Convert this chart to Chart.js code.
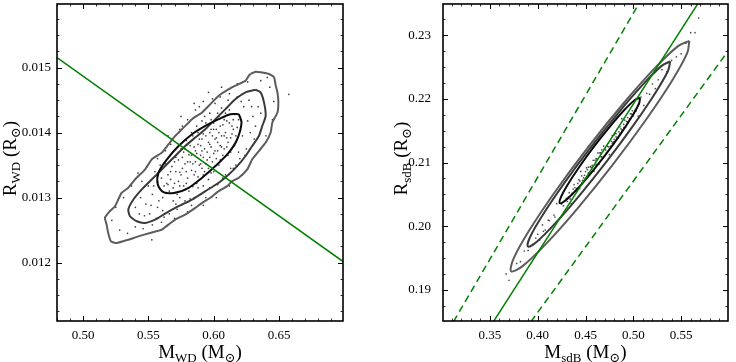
<!DOCTYPE html>
<html>
<head>
<meta charset="utf-8">
<script src="https://cdn.jsdelivr.net/npm/chart.js@4.4.1/dist/chart.umd.min.js"></script>
<style>
  body { margin: 0; background: #fff; }
  .panel { position: absolute; top: 0; width: 368px; height: 362px; }
</style>
</head>
<body>
<div class="panel" style="left:0"><canvas id="wdChart" width="368" height="362"></canvas></div>
<div class="panel" style="left:368px"><canvas id="sdbChart" width="368" height="362"></canvas></div>
<script>
// --- white dwarf panel (M, R) ---
const wdMassTicks = [0.50, 0.55, 0.60, 0.65]
const wdRadiusTicks = [0.012, 0.013, 0.014, 0.015]

const wdSamples = [
  [0.562, 0.01318], [0.565, 0.01335], [0.566, 0.01310], [0.568, 0.01348], [0.570, 0.01322], [0.571, 0.01362],
  [0.572, 0.01305], [0.574, 0.01339], [0.575, 0.01375], [0.577, 0.01318], [0.578, 0.01352], [0.579, 0.01388],
  [0.580, 0.01330], [0.581, 0.01366], [0.583, 0.01342], [0.583, 0.01400], [0.584, 0.01317], [0.585, 0.01378],
  [0.586, 0.01355], [0.587, 0.01410], [0.588, 0.01332], [0.589, 0.01390], [0.590, 0.01365], [0.591, 0.01345],
  [0.591, 0.01418], [0.592, 0.01398], [0.593, 0.01375], [0.594, 0.01352], [0.595, 0.01408], [0.596, 0.01385],
  [0.597, 0.01362], [0.598, 0.01420], [0.599, 0.01395], [0.600, 0.01340], [0.601, 0.01372], [0.602, 0.01405],
  [0.603, 0.01385], [0.604, 0.01425], [0.605, 0.01358], [0.606, 0.01395], [0.607, 0.01412], [0.608, 0.01375],
  [0.609, 0.01430], [0.610, 0.01392], [0.611, 0.01365], [0.612, 0.01415], [0.614, 0.01398], [0.615, 0.01420],
  [0.616, 0.01380], [0.618, 0.01408], [0.569, 0.01295], [0.576, 0.01290], [0.588, 0.01315], [0.596, 0.01328],
  [0.560, 0.01330], [0.563, 0.01352], [0.582, 0.01298], [0.593, 0.01425], [0.606, 0.01438], [0.587, 0.01368],
  [0.561, 0.01300], [0.564, 0.01322], [0.567, 0.01340], [0.569, 0.01315], [0.571, 0.01340], [0.573, 0.01358],
  [0.574, 0.01300], [0.576, 0.01345], [0.577, 0.01370], [0.578, 0.01312], [0.579, 0.01340], [0.580, 0.01382],
  [0.581, 0.01310], [0.582, 0.01355], [0.584, 0.01395], [0.585, 0.01335], [0.586, 0.01372], [0.587, 0.01322],
  [0.588, 0.01400], [0.589, 0.01350], [0.590, 0.01380], [0.592, 0.01335], [0.592, 0.01362], [0.594, 0.01415],
  [0.595, 0.01370], [0.596, 0.01345], [0.597, 0.01400], [0.598, 0.01378], [0.599, 0.01355], [0.600, 0.01415],
  [0.601, 0.01390], [0.602, 0.01360], [0.603, 0.01430], [0.604, 0.01400], [0.605, 0.01380], [0.607, 0.01365],
  [0.608, 0.01420], [0.609, 0.01400], [0.611, 0.01385], [0.612, 0.01435], [0.613, 0.01370], [0.614, 0.01410],
  [0.616, 0.01428], [0.617, 0.01395], [0.619, 0.01420], [0.570, 0.01355], [0.575, 0.01335], [0.583, 0.01365],
  [0.591, 0.01390], [0.600, 0.01405],
  [0.565, 0.01320], [0.567, 0.01328], [0.573, 0.01325], [0.576, 0.01362], [0.579, 0.01322], [0.582, 0.01380],
  [0.584, 0.01352], [0.586, 0.01340], [0.588, 0.01382], [0.590, 0.01352], [0.591, 0.01372], [0.593, 0.01340],
  [0.594, 0.01395], [0.595, 0.01358], [0.597, 0.01382], [0.598, 0.01405], [0.600, 0.01368], [0.602, 0.01392],
  [0.603, 0.01372], [0.605, 0.01410], [0.606, 0.01378], [0.608, 0.01395], [0.610, 0.01418], [0.613, 0.01392],
  [0.615, 0.01405], [0.589, 0.01405], [0.592, 0.01318], [0.598, 0.01338], [0.604, 0.01350], [0.580, 0.01355],
  [0.578, 0.01375], [0.574, 0.01318], [0.571, 0.01308], [0.597, 0.01430], [0.610, 0.01378],
  [0.540, 0.01285], [0.544, 0.01300], [0.547, 0.01272], [0.550, 0.01318], [0.552, 0.01288], [0.555, 0.01340],
  [0.556, 0.01268], [0.558, 0.01295], [0.561, 0.01280], [0.563, 0.01372], [0.566, 0.01275], [0.568, 0.01390],
  [0.572, 0.01282], [0.574, 0.01405], [0.578, 0.01295], [0.580, 0.01420], [0.585, 0.01300], [0.586, 0.01435],
  [0.590, 0.01305], [0.592, 0.01448], [0.597, 0.01315], [0.599, 0.01452], [0.603, 0.01320], [0.605, 0.01455],
  [0.609, 0.01335], [0.612, 0.01460], [0.615, 0.01345], [0.618, 0.01455], [0.620, 0.01360], [0.623, 0.01440],
  [0.625, 0.01375], [0.627, 0.01450], [0.628, 0.01400], [0.630, 0.01425], [0.632, 0.01410], [0.634, 0.01440],
  [0.622, 0.01395], [0.626, 0.01418], [0.545, 0.01325], [0.553, 0.01305],
  [0.543, 0.01275], [0.548, 0.01290], [0.551, 0.01275], [0.554, 0.01318], [0.557, 0.01285], [0.559, 0.01350],
  [0.562, 0.01270], [0.567, 0.01382], [0.571, 0.01290], [0.576, 0.01410], [0.583, 0.01288], [0.589, 0.01440],
  [0.594, 0.01300], [0.601, 0.01445], [0.607, 0.01330], [0.611, 0.01450], [0.617, 0.01350], [0.621, 0.01448],
  [0.624, 0.01365], [0.629, 0.01440], [0.631, 0.01390], [0.636, 0.01430], [0.619, 0.01370], [0.613, 0.01345],
  [0.522, 0.01265], [0.525, 0.01285], [0.528, 0.01250], [0.531, 0.01300], [0.534, 0.01245], [0.537, 0.01318],
  [0.540, 0.01255], [0.542, 0.01338], [0.546, 0.01252], [0.549, 0.01348], [0.553, 0.01258], [0.557, 0.01360],
  [0.560, 0.01262], [0.565, 0.01395], [0.570, 0.01268], [0.575, 0.01425], [0.580, 0.01278], [0.585, 0.01445],
  [0.592, 0.01288], [0.596, 0.01462], [0.602, 0.01300], [0.606, 0.01470], [0.612, 0.01318], [0.618, 0.01475],
  [0.622, 0.01335], [0.626, 0.01478], [0.632, 0.01365], [0.636, 0.01480], [0.640, 0.01395], [0.643, 0.01470],
  [0.645, 0.01420], [0.646, 0.01448], [0.641, 0.01485], [0.6575, 0.01459], [0.5526, 0.01235]
]

const wdInner = [
  [0.6192, 0.014284], [0.6213, 0.014156], [0.6180, 0.013898], [0.6115, 0.013692], [0.6013, 0.013485],
  [0.5911, 0.013306], [0.5808, 0.013151], [0.5705, 0.013074], [0.5615, 0.013083], [0.5572, 0.013202],
  [0.5577, 0.013383], [0.5642, 0.013589], [0.5731, 0.013794], [0.5834, 0.013975], [0.5936, 0.014103],
  [0.6038, 0.014207], [0.6128, 0.014284], [0.6192, 0.014284]
]

const wdMiddle = [
  [0.6321, 0.014660], [0.6359, 0.014620], [0.6385, 0.014465], [0.6398, 0.014258], [0.6372, 0.014103],
  [0.6346, 0.013949], [0.6295, 0.013794], [0.6244, 0.013640], [0.6180, 0.013485], [0.6115, 0.013357],
  [0.6038, 0.013229], [0.5936, 0.013099], [0.5834, 0.012970], [0.5731, 0.012867], [0.5628, 0.012754],
  [0.5552, 0.012661], [0.5475, 0.012610], [0.5411, 0.012635], [0.5359, 0.012712], [0.5346, 0.012816],
  [0.5385, 0.012970], [0.5449, 0.013125], [0.5500, 0.013229], [0.5565, 0.013357], [0.5628, 0.013485],
  [0.5705, 0.013640], [0.5782, 0.013794], [0.5859, 0.013924], [0.5936, 0.014052], [0.6013, 0.014207],
  [0.6090, 0.014362], [0.6167, 0.014516], [0.6244, 0.014620], [0.6321, 0.014660]
]

const wdOuter = [
  [0.6282, 0.014903], [0.6321, 0.014938], [0.6359, 0.014929], [0.6423, 0.014903], [0.6462, 0.014852],
  [0.6475, 0.014722], [0.6488, 0.014620], [0.6495, 0.014465], [0.6488, 0.014311], [0.6449, 0.014156],
  [0.6436, 0.014001], [0.6398, 0.013847], [0.6346, 0.013717], [0.6295, 0.013589], [0.6257, 0.013434],
  [0.6192, 0.013306], [0.6142, 0.013253], [0.6103, 0.013176], [0.6038, 0.013099], [0.5975, 0.012997],
  [0.5911, 0.012919], [0.5859, 0.012842], [0.5782, 0.012739], [0.5705, 0.012661], [0.5654, 0.012584],
  [0.5603, 0.012507], [0.5513, 0.012456], [0.5423, 0.012403], [0.5346, 0.012352], [0.5257, 0.012301],
  [0.5213, 0.012326], [0.5192, 0.012456], [0.5180, 0.012584], [0.5167, 0.012688], [0.5205, 0.012790],
  [0.5244, 0.012867], [0.5269, 0.012970], [0.5295, 0.013074], [0.5346, 0.013151], [0.5398, 0.013280],
  [0.5475, 0.013434], [0.5526, 0.013589], [0.5603, 0.013692], [0.5654, 0.013821], [0.5705, 0.013949],
  [0.5757, 0.014052], [0.5834, 0.014207], [0.5911, 0.014311], [0.5975, 0.014439], [0.6038, 0.014567],
  [0.6115, 0.014671], [0.6192, 0.014748], [0.6244, 0.014799], [0.6269, 0.014876], [0.6282, 0.014903]
]

const wdConstraint = [[0.48, 0.015155], [0.70, 0.012001]]

// --- sdB panel (M, R) ---
const sdbMassTicks = [0.35, 0.40, 0.45, 0.50, 0.55]
const sdbRadiusTicks = [0.19, 0.20, 0.21, 0.22, 0.23]

const sdbSamples = [
  [0.428, 0.20389], [0.431, 0.20387], [0.433, 0.20526], [0.436, 0.20515], [0.438, 0.20654], [0.440, 0.20543],
  [0.442, 0.20672], [0.444, 0.20591], [0.446, 0.20790], [0.448, 0.20759], [0.450, 0.20748], [0.451, 0.20917],
  [0.453, 0.20836], [0.455, 0.20935], [0.457, 0.20854], [0.458, 0.21034], [0.460, 0.20963], [0.462, 0.21052],
  [0.464, 0.20971], [0.465, 0.21150], [0.467, 0.21089], [0.469, 0.21258], [0.471, 0.21197], [0.472, 0.21157],
  [0.474, 0.21306], [0.476, 0.21255], [0.478, 0.21424], [0.480, 0.21363], [0.482, 0.21452], [0.484, 0.21381],
  [0.486, 0.21560], [0.488, 0.21509], [0.490, 0.21598], [0.492, 0.21557], [0.494, 0.21706], [0.496, 0.21685],
  [0.498, 0.21764], [0.500, 0.21733], [0.502, 0.21822], [0.439, 0.20603], [0.447, 0.20719], [0.456, 0.20925],
  [0.463, 0.21151], [0.470, 0.21098], [0.477, 0.21334], [0.485, 0.21480], [0.491, 0.21667], [0.459, 0.20863],
  [0.452, 0.20887], [0.468, 0.21169],
  [0.430, 0.20438], [0.434, 0.20426], [0.437, 0.20584], [0.441, 0.20592], [0.443, 0.20731], [0.449, 0.20798],
  [0.454, 0.20826], [0.461, 0.21062], [0.466, 0.21090], [0.473, 0.21256], [0.479, 0.21323], [0.481, 0.21462],
  [0.487, 0.21529], [0.493, 0.21646], [0.497, 0.21684], [0.499, 0.21813], [0.503, 0.21811], [0.506, 0.21920],
  [0.425, 0.20350], [0.427, 0.20319], [0.418, 0.20144], [0.412, 0.20087], [0.406, 0.19920], [0.400, 0.19873],
  [0.395, 0.19715],
  [0.432, 0.20457], [0.444, 0.20711], [0.450, 0.20858], [0.457, 0.20954], [0.462, 0.20972], [0.466, 0.21150],
  [0.470, 0.21218], [0.474, 0.21246], [0.478, 0.21304], [0.482, 0.21402], [0.486, 0.21450], [0.490, 0.21548],
  [0.494, 0.21636], [0.497, 0.21764], [0.501, 0.21772], [0.446, 0.20680], [0.453, 0.20926], [0.460, 0.21033],
  [0.467, 0.21199], [0.480, 0.21433],
  [0.398, 0.19814], [0.402, 0.19782], [0.405, 0.20020], [0.408, 0.19939], [0.411, 0.20097], [0.414, 0.19976],
  [0.417, 0.20174], [0.420, 0.20353], [0.423, 0.20121], [0.508, 0.22029], [0.511, 0.21897], [0.514, 0.22086],
  [0.517, 0.22074], [0.520, 0.22233], [0.523, 0.22161], [0.526, 0.22300], [0.505, 0.21730], [0.445, 0.20860],
  [0.475, 0.21125], [0.488, 0.21689], [0.435, 0.20355],
  [0.378, 0.19414], [0.382, 0.19442], [0.386, 0.19610], [0.390, 0.19618], [0.530, 0.22458], [0.535, 0.22425],
  [0.540, 0.22603], [0.545, 0.22660], [0.550, 0.22708], [0.555, 0.22875],
  [0.560, 0.23040], [0.5684, 0.23270], [0.5645, 0.23040], [0.367, 0.19250], [0.370, 0.19150]
]

const sdbInner = [
  [0.5070, 0.22020], [0.50607, 0.21931], [0.49888, 0.21730], [0.48658, 0.21446], [0.47098, 0.21123],
  [0.45448, 0.20811], [0.43964, 0.20556], [0.42863, 0.20398], [0.4232, 0.20360], [0.42413, 0.20449],
  [0.43132, 0.20650], [0.44362, 0.20934], [0.45922, 0.21257], [0.47572, 0.21569], [0.49056, 0.21824],
  [0.50157, 0.21982], [0.5070, 0.22020]
]

const sdbMiddle = [
  [0.5386, 0.22590], [0.53631, 0.22441], [0.52300, 0.22092], [0.50080, 0.21599], [0.47297, 0.21034],
  [0.44380, 0.20485], [0.41780, 0.20035], [0.39881, 0.19752], [0.3898, 0.19680], [0.39209, 0.19829],
  [0.40540, 0.20178], [0.42760, 0.20671], [0.45543, 0.21236], [0.48460, 0.21785], [0.51060, 0.22235],
  [0.52959, 0.22518], [0.5386, 0.22590]
]

const sdbOuter = [
  [0.5586, 0.22910], [0.55631, 0.22717], [0.54015, 0.22277], [0.51268, 0.21660], [0.47795, 0.20955],
  [0.44132, 0.20273], [0.40843, 0.19718], [0.38417, 0.19372], [0.3723, 0.19290], [0.37459, 0.19483],
  [0.39075, 0.19923], [0.41822, 0.20540], [0.45295, 0.21245], [0.48958, 0.21927], [0.52247, 0.22482],
  [0.54673, 0.22828], [0.5586, 0.22910]
]

const sdbRelation = [[0.3537, 0.185], [0.5677, 0.235]]
const sdbUpperBound = [[0.312, 0.185], [0.506, 0.235]]
const sdbLowerBound = [[0.393, 0.185], [0.600, 0.2277]]

// --- drawing ---
const SERIF = '"Liberation Serif", "DejaVu Serif", serif'
const GREEN = '#008000'

const toXY = pairs => pairs.map(([x, y]) => ({ x, y }))

// axis titles with subscripts, like R_WD (R_sun)
function drawRichText (ctx, parts, cx, baseY) {
  const big = '19px ' + SERIF
  const small = '13px ' + SERIF
  let width = 0
  parts.forEach(([t, sub]) => {
    ctx.font = sub ? small : big
    width += ctx.measureText(t).width
  })
  let xx = cx - width / 2
  ctx.textAlign = 'left'
  ctx.textBaseline = 'alphabetic'
  parts.forEach(([t, sub]) => {
    ctx.font = sub ? small : big
    ctx.fillText(t, xx, baseY + (sub ? 4 : 0))
    xx += ctx.measureText(t).width
  })
}

// matplotlib-like frame: inward ticks on all four sides plus titles
const framePlugin = {
  id: 'frame',
  afterDatasetsDraw (chart, args, opts) {
    const { ctx, chartArea: a, scales: { x, y } } = chart
    ctx.save()
    ctx.strokeStyle = '#000'
    const seg = (x1, y1, x2, y2) => {
      ctx.beginPath(); ctx.moveTo(x1, y1); ctx.lineTo(x2, y2); ctx.stroke()
    }
    const xTick = (v, len) => {
      const p = Math.round(x.getPixelForValue(v)) + 0.5
      seg(p, a.bottom, p, a.bottom - len); seg(p, a.top, p, a.top + len)
    }
    const yTick = (v, len) => {
      const p = Math.round(y.getPixelForValue(v)) + 0.5
      seg(a.left, p, a.left + len, p); seg(a.right, p, a.right - len, p)
    }
    ctx.lineWidth = 0.8
    for (let k = Math.ceil(x.min / opts.xMinor - 1e-6); k * opts.xMinor <= x.max + 1e-9; k++) xTick(k * opts.xMinor, 2.5)
    for (let k = Math.ceil(y.min / opts.yMinor - 1e-6); k * opts.yMinor <= y.max + 1e-9; k++) yTick(k * opts.yMinor, 2.5)
    ctx.lineWidth = 1
    x.ticks.forEach(t => xTick(t.value, 5))
    y.ticks.forEach(t => yTick(t.value, 5))
    ctx.lineWidth = 1.6
    ctx.strokeRect(a.left, a.top, a.right - a.left, a.bottom - a.top)

    ctx.fillStyle = '#000'
    drawRichText(ctx, opts.xTitle, (a.left + a.right) / 2, 358)
    ctx.translate(opts.yTitleX, (a.top + a.bottom) / 2 - 4)
    ctx.rotate(-Math.PI / 2)
    drawRichText(ctx, opts.yTitle, 0, 0)
    ctx.restore()
  }
}

function lineSet (pairs, color, width, dash) {
  return {
    type: 'line',
    data: toXY(pairs),
    borderColor: color,
    borderWidth: width,
    borderDash: dash || [],
    pointRadius: 0,
    fill: false,
    tension: 0
  }
}

function contourSet (pairs, color, tension) {
  const ds = lineSet(pairs, color, 2)
  ds.tension = tension
  ds.borderJoinStyle = 'round'
  return ds
}

// no label overhang padding: the plot box is fixed
function noPadding (s) {
  s.paddingTop = 0; s.paddingBottom = 0; s.paddingLeft = 0; s.paddingRight = 0
}

function makeScales (xr, yr, xTicks, yTicks, xDigits, yDigits, yPad) {
  return {
    x: {
      type: 'linear',
      min: xr[0],
      max: xr[1],
      afterBuildTicks: s => { s.ticks = xTicks.map(value => ({ value })) },
      afterFit: s => { s.height = 41; noPadding(s) },
      grid: { display: false, drawTicks: false },
      border: { display: false },
      ticks: { padding: 7, color: '#000', font: { family: SERIF, size: 13 }, callback: v => v.toFixed(xDigits) }
    },
    y: {
      type: 'linear',
      min: yr[0],
      max: yr[1],
      afterBuildTicks: s => { s.ticks = yTicks.map(value => ({ value })) },
      afterFit: s => { s.width = yr[2]; noPadding(s) },
      grid: { display: false, drawTicks: false },
      border: { display: false },
      ticks: { padding: yPad, color: '#000', font: { family: SERIF, size: 13 }, callback: v => v.toFixed(yDigits) }
    }
  }
}

new Chart(document.getElementById('wdChart'), {
  type: 'scatter',
  data: {
    datasets: [
      lineSet(wdConstraint, GREEN, 1.5),
      contourSet(wdInner, '#0a0a0a', 0.3),
      contourSet(wdMiddle, '#3a3a3a', 0.2),
      contourSet(wdOuter, '#5c5c5c', 0.15),
      { data: toXY(wdSamples), pointRadius: 0.85, pointBorderWidth: 0, backgroundColor: 'rgba(0,0,0,0.75)' }
    ]
  },
  options: {
    responsive: false,
    devicePixelRatio: 1,
    animation: false,
    layout: { padding: { top: 4, right: 25, left: 0, bottom: 0 } },
    scales: makeScales([0.48, 0.699], [0.0111, 0.01598, 57], wdMassTicks, wdRadiusTicks, 2, 3, 6),
    plugins: {
      legend: { display: false },
      tooltip: { enabled: false },
      frame: {
        xMinor: 0.01,
        yMinor: 0.00025,
        xTitle: [['M', false], ['WD', true], [' (M', false], ['\u2299', true], [')', false]],
        yTitle: [['R', false], ['WD', true], [' (R', false], ['\u2299', true], [')', false]],
        yTitleX: 16
      }
    }
  },
  plugins: [framePlugin]
})

new Chart(document.getElementById('sdbChart'), {
  type: 'scatter',
  data: {
    datasets: [
      lineSet(sdbRelation, GREEN, 1.5),
      lineSet(sdbUpperBound, GREEN, 1.5, [7, 4.5]),
      lineSet(sdbLowerBound, GREEN, 1.5, [7, 4.5]),
      contourSet(sdbInner, '#0a0a0a', 0.35),
      contourSet(sdbMiddle, '#3a3a3a', 0.35),
      contourSet(sdbOuter, '#5c5c5c', 0.35),
      { data: toXY(sdbSamples), pointRadius: 0.85, pointBorderWidth: 0, backgroundColor: 'rgba(0,0,0,0.7)' }
    ]
  },
  options: {
    responsive: false,
    devicePixelRatio: 1,
    animation: false,
    layout: { padding: { top: 4, right: 8, left: 0, bottom: 0 } },
    scales: makeScales([0.301, 0.599], [0.1851, 0.2349, 75], sdbMassTicks, sdbRadiusTicks, 2, 2, 12),
    plugins: {
      legend: { display: false },
      tooltip: { enabled: false },
      frame: {
        xMinor: 0.01,
        yMinor: 0.0025,
        xTitle: [['M', false], ['sdB', true], [' (M', false], ['\u2299', true], [')', false]],
        yTitle: [['R', false], ['sdB', true], [' (R', false], ['\u2299', true], [')', false]],
        yTitleX: 39
      }
    }
  },
  plugins: [framePlugin]
})
</script>
</body>
</html>
